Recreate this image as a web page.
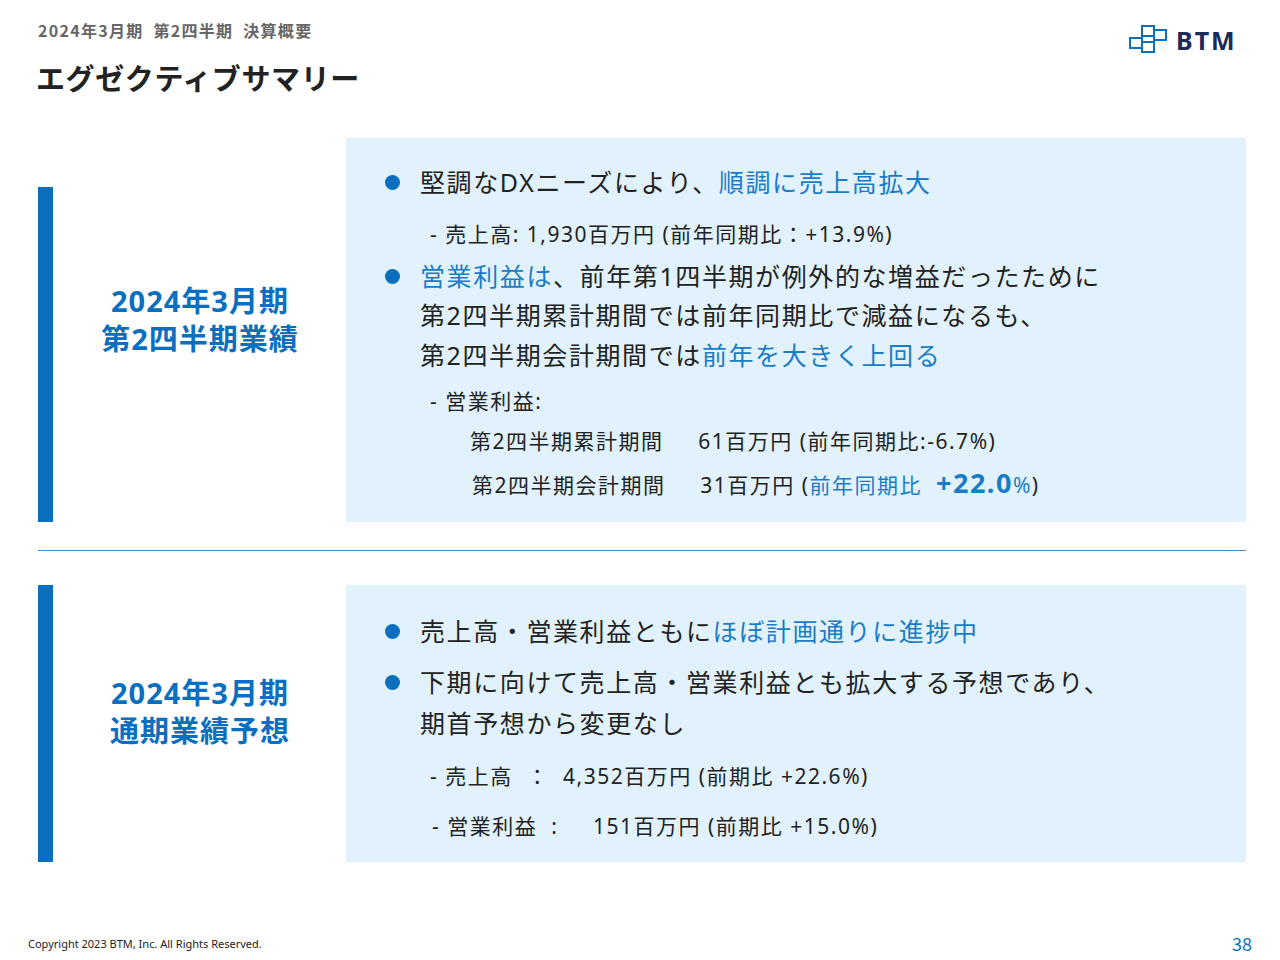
<!DOCTYPE html>
<html><head><meta charset="utf-8">
<script src="https://cdn.jsdelivr.net/npm/chart.js@4"></script>
<style>
body{margin:0;width:1280px;height:960px;background:#fff;font-family:"Noto Sans CJK JP","Noto Sans",sans-serif;color:#222;position:relative;overflow:hidden}
.a{position:absolute;white-space:nowrap}
.b{color:#1a7cc4}
.bar{position:absolute;left:38px;width:15px;background:#0b6fbf}
.panel{position:absolute;left:346px;width:900px;background:#e2f2fc}
.lab{position:absolute;left:60px;width:280px;text-align:center;color:#0b6fbf;font-weight:bold;font-size:29px;line-height:38px;font-family:"Noto Sans","Noto Sans CJK JP";letter-spacing:1px}
.t{font-size:25px;letter-spacing:1.6px;font-family:"Noto Sans","Noto Sans CJK JP"}
.s{font-size:21px;letter-spacing:1.5px;font-family:"Noto Sans","Noto Sans CJK JP"}
.dot{display:inline-block;width:15px;height:15px;border-radius:50%;background:#0b6fbf;margin-right:20px;vertical-align:2px}
</style></head><body>
<div class="a" style="left:38px;top:18px;font-size:16px;font-weight:bold;color:#666;letter-spacing:1.3px">2024年3月期&nbsp; 第2四半期&nbsp; 決算概要</div>
<div class="a" style="left:36px;top:56px;font-size:29px;font-weight:bold;color:#222;letter-spacing:0.6px">エグゼクティブサマリー</div>
<svg class="a" style="left:1128px;top:24px" width="125" height="32">
<g fill="none" stroke="#0b6fbf" stroke-width="2"><rect x="14" y="2" width="12" height="10"/><rect x="26" y="6" width="12" height="10"/><rect x="2" y="14" width="12" height="10"/><rect x="14" y="18" width="12" height="10"/></g>
<text x="48" y="26" font-size="25" font-weight="bold" fill="#1d2a5a" font-family="Noto Sans" letter-spacing="2">BTM</text></svg>

<div class="panel" style="top:138px;height:384px"></div>
<div class="bar" style="top:187px;height:335px"></div>
<div class="lab" style="top:282px">2024年3月期<br>第2四半期業績</div>
<div class="a t" style="left:385px;top:163px"><span class="dot"></span>堅調なDXニーズにより、<span class="b">順調に売上高拡大</span></div>
<div class="a s" style="left:430px;top:218px">- 売上高: 1,930百万円 (前年同期比：+13.9%)</div>
<div class="a t" style="left:385px;top:257px"><span class="dot"></span><span class="b">営業利益は</span>、前年第1四半期が例外的な増益だったために</div>
<div class="a t" style="left:420px;top:296px">第2四半期累計期間では前年同期比で減益になるも、</div>
<div class="a t" style="left:420px;top:336px">第2四半期会計期間では<span class="b">前年を大きく上回る</span></div>
<div class="a s" style="left:430px;top:385px">- 営業利益:</div>
<div class="a s" style="left:470px;top:425px">第2四半期累計期間&nbsp;&nbsp;&nbsp;&nbsp; 61百万円 (前年同期比:-6.7%)</div>
<div class="a s" style="left:472px;top:464px">第2四半期会計期間&nbsp;&nbsp;&nbsp;&nbsp; 31百万円 (<span class="b">前年同期比&nbsp; <b style="font-size:27px">+22.0</b>%</span>)</div>

<div class="a" style="left:38px;top:550px;width:1208px;height:1px;background:#3a8fd0"></div>

<div class="panel" style="top:585px;height:277px"></div>
<div class="bar" style="top:585px;height:277px"></div>
<div class="lab" style="top:674px">2024年3月期<br>通期業績予想</div>
<div class="a t" style="left:385px;top:612px"><span class="dot"></span>売上高・営業利益ともに<span class="b">ほぼ計画通りに進捗中</span></div>
<div class="a t" style="left:385px;top:663px"><span class="dot"></span>下期に向けて売上高・営業利益とも拡大する予想であり、</div>
<div class="a t" style="left:420px;top:704px">期首予想から変更なし</div>
<div class="a s" style="left:430px;top:760px">- 売上高&nbsp; ：&nbsp; 4,352百万円 (前期比 +22.6%)</div>
<div class="a s" style="left:432px;top:810px">- 営業利益&nbsp; :&nbsp;&nbsp;&nbsp;&nbsp; 151百万円 (前期比 +15.0%)</div>

<div class="a" style="left:28px;top:936px;font-size:11px;color:#222;font-family:'Noto Sans'">Copyright 2023 BTM, Inc. All Rights Reserved.</div>
<div class="a" style="left:1232px;top:930px;font-size:18px;color:#0b6fbf">38</div>
</body></html>
